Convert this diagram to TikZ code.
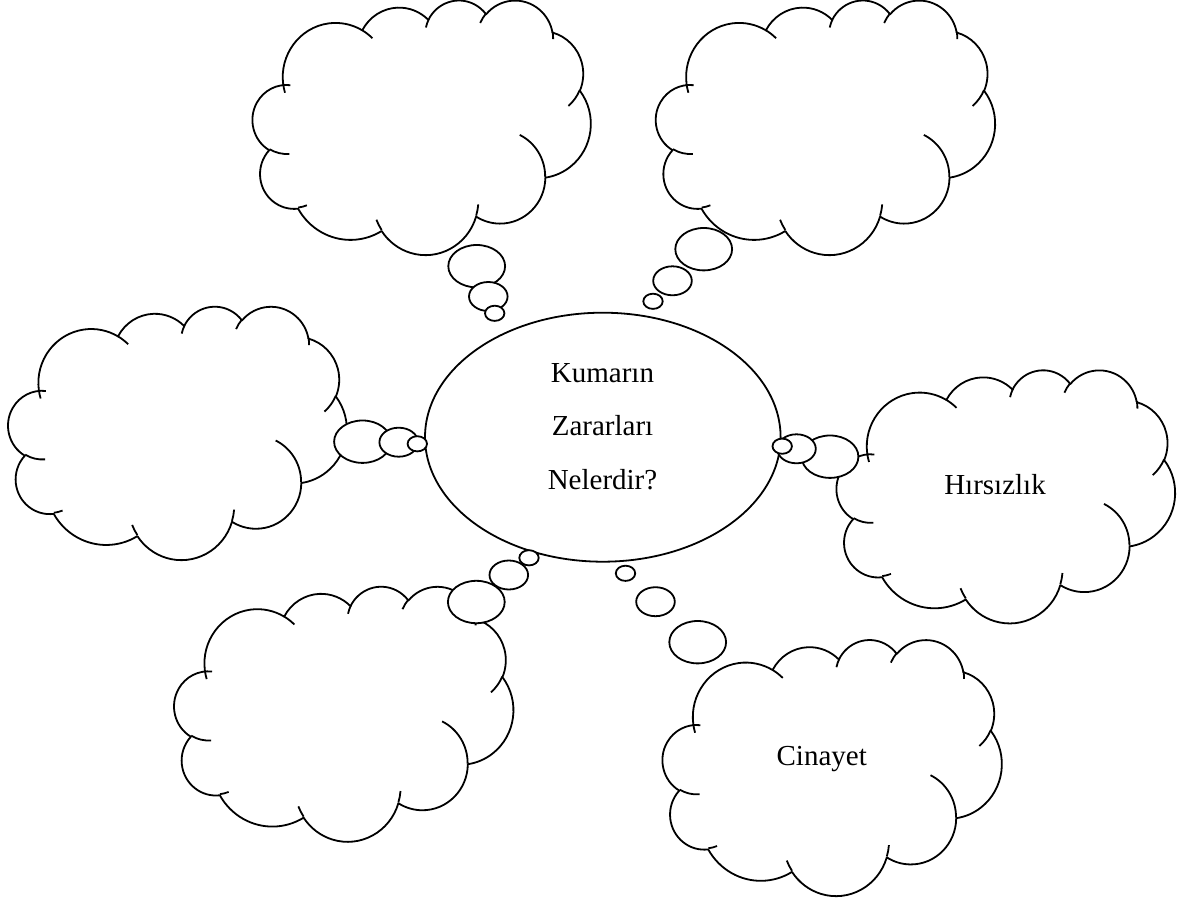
\documentclass[tikz,border=0pt]{standalone}
\usepackage{fontspec}
\setmainfont{Liberation Serif}
\usetikzlibrary{shapes.geometric}
\tikzset{
  cloudline/.style={line width=1.8pt, line join=round},
  bubble/.style={draw, fill=white, line width=1.8pt},
  label/.style={font=\fontsize{29}{30}\selectfont, inner sep=0pt, anchor=base}
}
\def\cloudarcs{(3.9,14.37)
 arc[start angle=-187.745, end angle=-59.64, x radius=6.753, y radius=9.19]
 arc[start angle=-152.02, end angle=-45.456, x radius=5.333, y radius=7.267]
 arc[start angle=-153.49, end angle=-37.32, x radius=4.365, y radius=5.945]
 arc[start angle=-139.70, end angle=-10.21, x radius=4.857, y radius=6.595]
 arc[start angle=-74.77, end angle=23.21, x radius=5.333, y radius=7.273]
 arc[start angle=-37.53, end angle=81.86, x radius=6.775, y radius=9.22]
 arc[start angle=0.46, end angle=121.98, x radius=5.785, y radius=7.867]
 arc[start angle=16.84, end angle=146.24, x radius=6.752, y radius=9.215]
 arc[start angle=58.98, end angle=150.20, x radius=7.72, y radius=10.543]
 arc[start angle=83.31, end angle=223.11, x radius=4.36, y radius=5.918]
 arc[start angle=120.36, end angle=276.61, x radius=4.345, y radius=5.945]}
\def\cloudtails{(4.693,26.177) arc[start angle=85.547, end angle=120.36, x radius=4.345, y radius=5.945]
 (6.928,34.899) arc[start angle=68.24, end angle=83.31, x radius=4.36, y radius=5.918]
 (16.478,39.09) arc[start angle=146.24, end angle=158.47, x radius=6.752, y radius=9.215]
 (28.827,34.751) arc[start angle=4.738, end angle=16.84, x radius=6.752, y radius=9.215]
 (34.129,22.954) arc[start angle=-64.03, end angle=0.46, x radius=5.785, y radius=7.867]
 (41.798,15.354) arc[start angle=23.21, end angle=49.64, x radius=5.333, y radius=7.273]
 (38.324,5.426) arc[start angle=-10.21, end angle=0.821, x radius=4.857, y radius=6.595]
 (29.078,3.952) arc[start angle=-156.29, end angle=-139.70, x radius=4.857, y radius=6.595]
 (22.141,4.72) arc[start angle=-167.73, end angle=-153.49, x radius=4.365, y radius=5.945]
 (14.0,5.192) arc[start angle=-59.64, end angle=-45.74, x radius=6.753, y radius=9.19]
 (4.127,15.789) arc[start angle=163.19, end angle=172.25, x radius=6.753, y radius=9.19]}
\newcommand{\kcloud}[4]{%
  \begin{scope}[shift={(#1,#2)}, xscale=#3/43.2, yscale=#4/43.2]
    \fill[white] \cloudarcs -- cycle;
    \draw[cloudline] \cloudarcs;
    \draw[cloudline] \cloudtails;
  \end{scope}}
\newcommand{\kbubbles}[6]{%
  \draw[bubble] (#1,#2) ellipse [x radius=28.4, y radius=21.2];
  \draw[bubble] (#3,#4) ellipse [x radius=19.3, y radius=14.5];
  \draw[bubble] (#5,#6) ellipse [x radius=9.7, y radius=7.6];}
\begin{document}
\begin{tikzpicture}[x=1pt, y=-1pt]
  \useasboundingbox (0,0) rectangle (1180,904);
  % central ellipse
  \node[ellipse, draw, line width=1.8pt, fill=white, minimum width=355.6pt, minimum height=249pt, inner sep=0pt] (center) at (602.8,437.2) {};
  % top-left
  \kcloud{252.7}{-0.3}{338}{254.5}
  \kbubbles{476.7}{266.2}{488.3}{296.5}{494.7}{313.3}
  % top-right
  \kcloud{656}{-0.3}{339}{254.5}
  \kbubbles{703.7}{249.2}{672.5}{280.8}{653}{301.3}
  % left
  \kcloud{8.3}{305.9}{338.4}{253.3}
  \kbubbles{362.5}{441.7}{398.7}{442.2}{417.3}{443.8}
  % right
  \kcloud{836.7}{369.5}{338.3}{253}
  \kbubbles{830}{456.7}{796.5}{448.8}{782.2}{446.2}
  % bottom-left
  \kcloud{174.3}{585.9}{339}{255}
  \kbubbles{476.3}{602}{508.8}{575}{529}{557.8}
  % bottom-right
  \kcloud{662.7}{639.2}{339}{256}
  \kbubbles{697.7}{642.2}{655.5}{601.7}{625.5}{573.3}
  % texts
  \node[label] (ct1) at (602.5,382.3) {Kumarın};
  \node[label] (ct2) at (602.5,435) {Zararları};
  \node[label] (ct3) at (602.5,489) {Nelerdir?};
  \node[label] (hirsizlik) at (995,494.3) {Hırsızlık};
  \node[label] (cinayet) at (821.7,765) {Cinayet};
\end{tikzpicture}
\end{document}
